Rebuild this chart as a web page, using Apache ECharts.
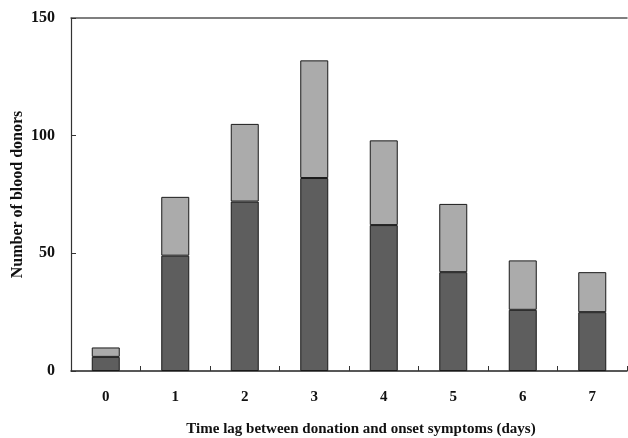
<!DOCTYPE html>
<html>
<head>
<meta charset="utf-8">
<script src="https://cdn.jsdelivr.net/npm/echarts@6/dist/echarts.min.js"></script>
<style>
  html, body { margin: 0; padding: 0; background: #fff; }
  #chart { width: 628px; height: 438px; }
</style>
</head>
<body>
<div id="chart"></div>
<script>
// 가로축 분류 (일)
var days = ['0', '1', '2', '3', '4', '5', '6', '7'];
// 아래쪽 짙은 막대
var darkPart = [6, 49, 72, 82, 62, 42, 26, 25];
// 위쪽 옅은 막대
var lightPart = [4, 25, 33, 50, 36, 29, 21, 17];
// 세로축 눈금
var yTicks = [0, 50, 100, 150];

var fontSerif = '"Liberation Serif", "DejaVu Serif", serif';

var myChart = echarts.init(document.getElementById('chart'));

var option = {
	animation: false,
	grid: { left: 71, right: 1, top: 18, bottom: 67, outerBoundsMode: 'none', containLabel: false },
	xAxis: [
		{
			type: 'category',
			data: days,
			name: 'Time lag between donation and onset symptoms (days)',
			nameLocation: 'middle',
			nameGap: 51,
			nameTextStyle: { fontFamily: fontSerif, fontWeight: 'bold', fontSize: 15, color: '#111', padding: [0, 0, 0, 24] },
			axisLine: { lineStyle: { color: '#222', width: 1.5 } },
			axisTick: { show: true, inside: true, length: 5, alignWithLabel: false, lineStyle: { color: '#333' } },
			axisLabel: { fontFamily: fontSerif, fontWeight: 'bold', fontSize: 15, color: '#111', margin: 19 }
		},
		{
			type: 'category',
			data: days,
			position: 'top',
			axisLine: { lineStyle: { color: '#555', width: 1.5 } },
			axisTick: { show: false },
			axisLabel: { show: false }
		}
	],
	yAxis: {
		type: 'value',
		min: yTicks[0],
		max: yTicks[yTicks.length - 1],
		interval: 50,
		name: 'Number of blood donors',
		nameLocation: 'middle',
		nameGap: 45,
		nameMoveOverlap: false,
		nameTextStyle: { fontFamily: fontSerif, fontWeight: 'bold', fontSize: 16, color: '#111' },
		axisLine: { show: true, lineStyle: { color: '#333', width: 1.2 } },
		axisTick: { show: true, inside: true, length: 5, lineStyle: { color: '#333' } },
		axisLabel: { fontFamily: fontSerif, fontWeight: 'bold', fontSize: 16, color: '#111', margin: 16 },
		splitLine: { show: false }
	},
	series: [
		{
			name: 'dark',
			type: 'bar',
			stack: 'donors',
			data: darkPart,
			barWidth: 28,
			itemStyle: { color: '#5e5e5e', borderColor: '#1a1a1a', borderWidth: 1 }
		},
		{
			name: 'light',
			type: 'bar',
			stack: 'donors',
			data: lightPart,
			barWidth: 28,
			itemStyle: { color: '#ababab', borderColor: '#1a1a1a', borderWidth: 1 }
		}
	]
};

myChart.setOption(option);
</script>
</body>
</html>
